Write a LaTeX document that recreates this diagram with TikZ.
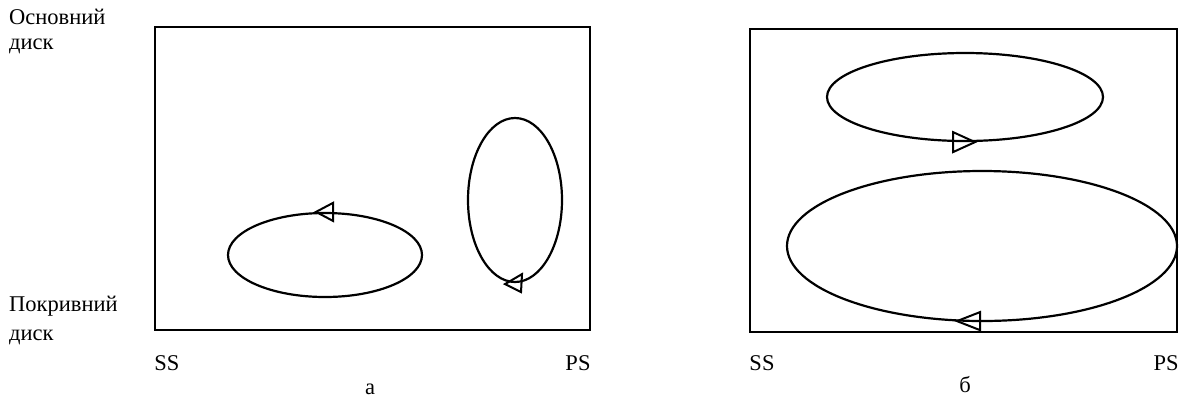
\documentclass[tikz,border=0pt]{standalone}
\usepackage{fontspec}
\setmainfont{Liberation Serif}
\usetikzlibrary{shapes.geometric}
\tikzset{
  frame/.style={draw, line width=2.8pt, minimum width=#1, inner sep=0pt},
  loop/.style={draw, ellipse, line width=2.2pt, inner sep=0pt},
  lbl/.style={font=\fontsize{22.5}{26}\selectfont, inner sep=0pt, anchor=west},
  tip/.style={line width=2pt, line join=miter}
}
\begin{document}
\begin{tikzpicture}[x=1pt,y=-1pt]
\useasboundingbox (0,0) rectangle (1185,400);
% frames
\node[frame=435pt, minimum height=303pt] (fa) at (372.5,178.5) {};
\node[frame=427pt, minimum height=303pt] (fb) at (963.5,180.5) {};
% left side labels
\node[lbl, align=left, anchor=north west] (top) at (9,9) {Основний\\[-1pt]диск};
\node[lbl, align=left, anchor=north west] (bot) at (9,296) {Покривний\\[3pt]диск};
% axis labels
\node[lbl, anchor=center] (ssa) at (167,363) {SS};
\node[lbl, anchor=center] (psa) at (578,363) {PS};
\node[lbl, anchor=center] (ssb) at (762,363) {SS};
\node[lbl, anchor=center] (psb) at (1166,363) {PS};
\node[lbl, anchor=base] (la) at (370,394) {а};
\node[lbl, anchor=center] (lb) at (965,385) {б};
% loops
\node[loop, minimum width=194pt, minimum height=84pt] (e1) at (325,255) {};
\node[loop, minimum width=94pt, minimum height=164pt] (e2) at (515,200) {};
\node[loop, minimum width=276pt, minimum height=88pt] (e3) at (965,97) {};
\node[loop, minimum width=390pt, minimum height=150pt] (e4) at (982,246) {};
% arrowheads
\draw[tip] ([xshift=-9pt]e1.north) -- ++(17,-9) -- ++(0,18) -- cycle;
\draw[tip] ([xshift=-10pt,yshift=-1pt]e2.south) -- ++(17,-10) -- ++(-1,18) -- cycle;
\draw[tip] ([xshift=10pt]e3.south) -- ++(-22,-10) -- ++(0,20) -- cycle;
\draw[tip] ([xshift=-25pt,yshift=1pt]e4.south) -- ++(23,-9) -- ++(0,18) -- cycle;
\end{tikzpicture}
\end{document}
